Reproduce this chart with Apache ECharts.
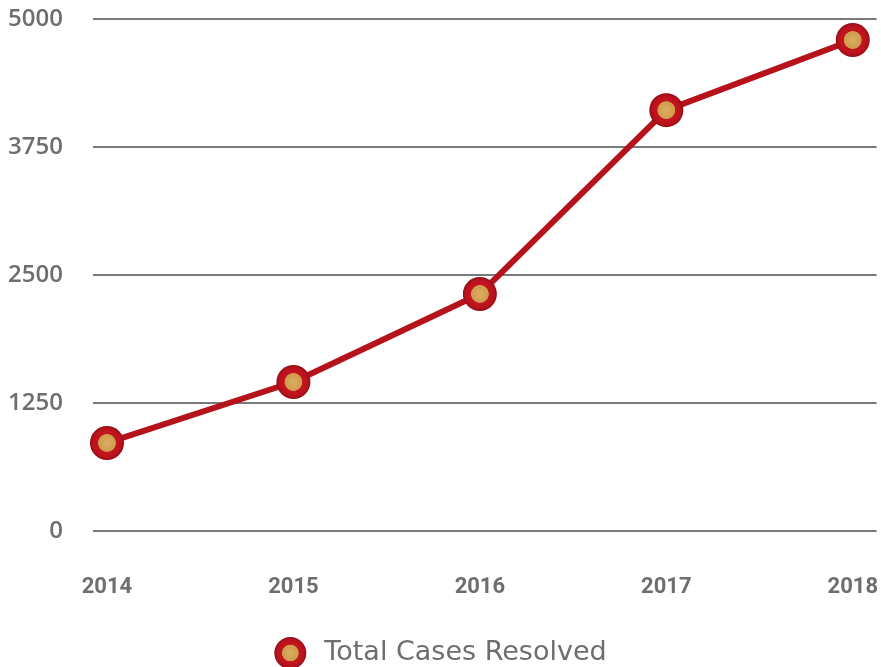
<!DOCTYPE html>
<html lang="en">
<head>
    <meta charset="utf-8">
    <title>Total Cases Resolved</title>
    <script src="https://cdn.jsdelivr.net/npm/echarts@6/dist/echarts.min.js"></script>
    <style>
        html, body { margin: 0; padding: 0; background: #fff; }
        #chart { width: 881px; height: 667px; }
    </style>
</head>
<body>
    <div id="chart"></div>
    <script type="text/javascript">
        var years = [2014, 2015, 2016, 2017, 2018];
        var casesResolved = [860, 1455, 2315, 4110, 4795];
        var yTicks = [0, 1250, 2500, 3750, 5000];

        var markerFill = {
            type: 'radial', x: 0.5, y: 0.5, r: 0.5,
            colorStops: [
                { offset: 0, color: '#dcae62' },
                { offset: 0.5, color: '#cf9c4e' },
                { offset: 0.54, color: '#c4151f' },
                { offset: 0.85, color: '#b8121c' },
                { offset: 1, color: '#8e0c14' }
            ]
        };

        var myChart = echarts.init(document.getElementById('chart'));
        var option = {
            animation: false,
            grid: {
                left: 93,
                right: 3,
                top: 19,
                bottom: 136
            },
            legend: {
                top: 632,
                left: 'center',
                itemWidth: 32,
                itemHeight: 32,
                icon: 'circle',
                textStyle: {
                    fontFamily: 'DejaVu Sans',
                    fontSize: 27,
                    color: '#6d6e71',
                    padding: [0, 0, 0, 13]
                },
                data: ['Total Cases Resolved']
            },
            xAxis: {
                type: 'value',
                min: 2013.925,
                max: 2018.128,
                axisLine: { show: false },
                axisTick: { show: false },
                splitLine: { show: false },
                axisLabel: {
                    customValues: years,
                    margin: 45,
                    fontFamily: 'Liberation Sans Narrow, Roboto',
                    fontWeight: 'bold',
                    fontSize: 22,
                    color: '#6d6e71',
                    formatter: function (v) { return String(v); }
                }
            },
            yAxis: {
                type: 'value',
                min: yTicks[0],
                max: yTicks[yTicks.length - 1],
                interval: 1250,
                axisLine: { show: false },
                axisTick: { show: false },
                splitLine: { lineStyle: { color: '#7a7a7a', width: 2 } },
                axisLabel: {
                    margin: 30,
                    fontFamily: 'Open Sans',
                    fontWeight: 600,
                    fontSize: 24,
                    color: '#6d6e71',
                    formatter: function (v) { return String(v); }
                }
            },
            series: [{
                name: 'Total Cases Resolved',
                type: 'line',
                data: years.map(function (y, i) { return [y, casesResolved[i]]; }),
                lineStyle: { color: '#b5121b', width: 6 },
                symbol: 'circle',
                symbolSize: 34,
                itemStyle: { color: markerFill },
                z: 3
            }]
        };
        myChart.setOption(option);
    </script>
</body>
</html>
